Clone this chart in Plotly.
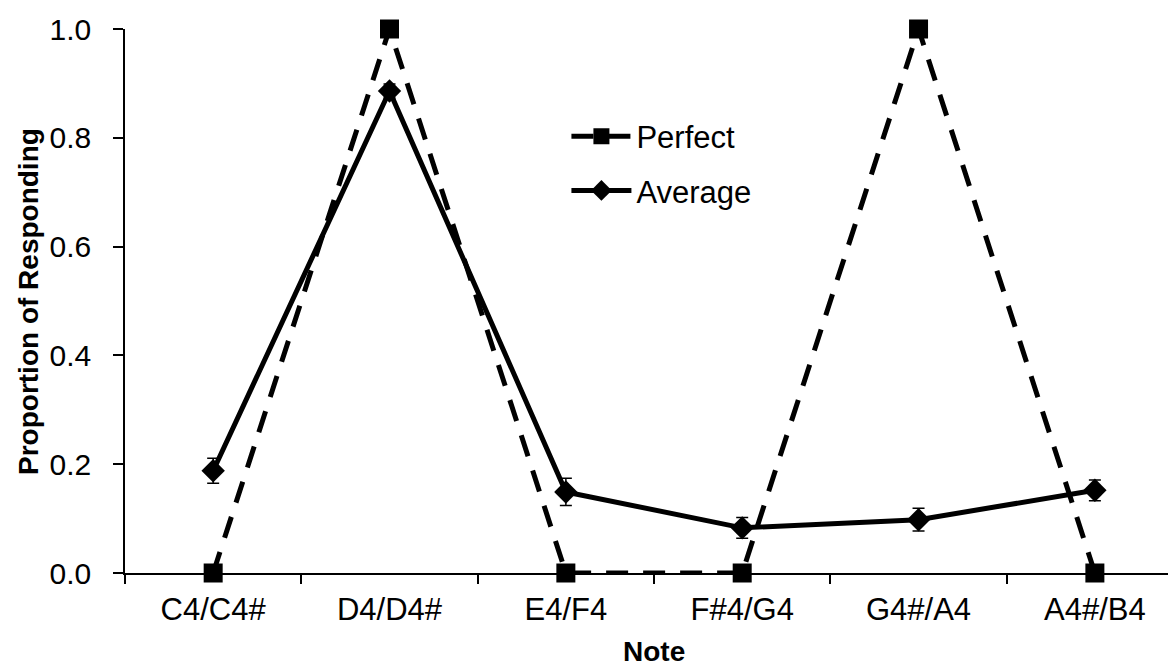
import plotly.graph_objects as go

notes = ["C4/C4#", "D4/D4#", "E4/F4", "F#4/G4", "G4#/A4", "A4#/B4"]
perfect = [0, 1, 0, 0, 1, 0]
average = [0.188, 0.886, 0.149, 0.083, 0.098, 0.152]
average_err = [0.023, 0.013, 0.025, 0.019, 0.021, 0.019]

FONT = "Liberation Sans, Arial, sans-serif"

fig = go.Figure()
fig.add_trace(go.Scatter(
    x=notes, y=perfect, name="Perfect", mode="lines+markers",
    line=dict(color="black", width=5, dash="22px,15px"),
    marker=dict(symbol="square", size=19, color="black"),
    legendgroup="p", cliponaxis=False,
))
fig.add_trace(go.Scatter(
    x=notes, y=average, name="Average", mode="lines+markers",
    line=dict(color="black", width=5),
    marker=dict(symbol="diamond", size=18, color="black"),
    error_y=dict(type="data", array=average_err, visible=True,
                 color="black", thickness=1.5, width=6),
    legendgroup="a", cliponaxis=False,
))

fig.update_layout(
    width=1168, height=661,
    margin=dict(l=117, r=0, t=21, b=96, autoexpand=False),
    paper_bgcolor="white", plot_bgcolor="white",
    font=dict(family=FONT, color="black", size=30),
    showlegend=True,
    legend=dict(x=0.42, y=0.852, xanchor="left", yanchor="top",
                bgcolor="rgba(0,0,0,0)", font=dict(size=31),
                tracegroupgap=11, itemwidth=60),
    xaxis=dict(
        type="category", range=[-0.5, 5.46], automargin=False,
        showline=True, linecolor="black", linewidth=1.5,
        ticks="outside", tickson="boundaries", ticklen=9,
        tickcolor="black", tickwidth=1.5, ticklabelstandoff=8,
        showgrid=False, zeroline=False,
        tickfont=dict(size=31),
    ),
    yaxis=dict(
        range=[0, 1], dtick=0.2, tickformat=".1f", automargin=False,
        showline=True, linecolor="black", linewidth=1.5,
        ticks="outside", ticklen=10, tickcolor="black", tickwidth=1.5,
        ticklabelstandoff=16,
        showgrid=False, zeroline=False,
        tickfont=dict(size=30),
    ),
    annotations=[
        dict(text="<b>Note</b>", xref="paper", yref="paper",
             x=0.5033, y=-0.1452, xanchor="center", yanchor="middle",
             showarrow=False, font=dict(size=28)),
        dict(text="<b>Proportion of Responding</b>", xref="paper", yref="paper",
             x=-0.0923, y=0.5, xanchor="center", yanchor="middle",
             textangle=-90, showarrow=False, font=dict(size=28)),
    ],
)

fig.write_html("out.html")
